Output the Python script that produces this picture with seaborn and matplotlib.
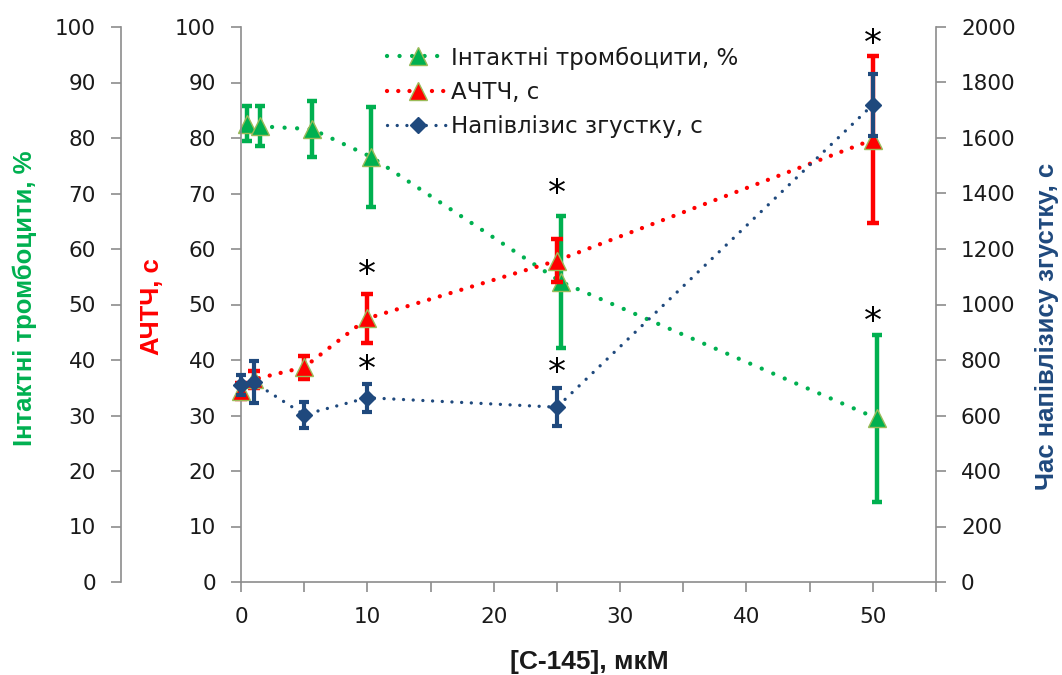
import matplotlib
matplotlib.use("Agg")
import matplotlib.pyplot as plt
import seaborn as sns
from matplotlib.ticker import MultipleLocator

# [C-145], uM
conc = [0, 1, 5, 10, 25, 50]
conc_platelets = [0.5, 1.5, 5.6, 10.3, 25.3, 50.3]

# Intact platelets, %
platelets = [82.6, 82.1, 81.6, 76.6, 54.1, 29.5]
platelets_sd = [3.2, 3.6, 5.1, 9.0, 11.9, 15.0]

# APTT, s
aptt = [34.4, 36.5, 38.7, 47.5, 57.9, 79.7]
aptt_sd = [1.5, 1.5, 2.1, 4.4, 3.9, 15.0]

# Clot half-lysis time, s
lysis = [710, 720, 603, 664, 630, 1720]
lysis_sd = [35, 75, 47, 51, 68, 111]

# significance marks (x, y on the percent / seconds scale)
star_x = [10, 10, 25, 25, 50, 50]
star_y = [55.4, 38.2, 70.0, 37.7, 97.0, 46.8]

x_ticks = [0, 10, 20, 30, 40, 50]
left_ticks = list(range(0, 101, 10))
right_ticks = list(range(0, 2001, 200))

GREEN = "#00B050"
RED = "#FF0000"
BLUE = "#1F497D"
OLIVE = "#9BBB59"
SPINE = "#8C8C8C"
TEXT = "#1A1A1A"

sns.set_theme(style="white")
plt.rcParams["font.family"] = ["DejaVu Sans"]

W, H = 1062, 675
fig = plt.figure(figsize=(W / 100, H / 100), dpi=100)
fig.patch.set_facecolor("white")

x0, x1, y0, y1 = 241, 936, 27, 582
axR = fig.add_axes([x0 / W, 1 - y1 / H, (x1 - x0) / W, (y1 - y0) / H])
axG = axR.twinx()
axB = axR.twinx()

axG.set_zorder(1)
axR.set_zorder(2)
axB.set_zorder(3)
for a in (axG, axR, axB):
    a.patch.set_visible(False)
    for s in a.spines.values():
        s.set_visible(False)
        s.set_color(SPINE)
        s.set_linewidth(1.2)
    a.grid(False)

axR.spines["left"].set_visible(True)
axR.spines["bottom"].set_visible(True)
axG.spines["left"].set_visible(True)
axG.spines["left"].set_position(("axes", -120 / (x1 - x0)))
axG.yaxis.set_ticks_position("left")
axB.spines["right"].set_visible(True)

dot = dict(dash_capstyle="round", solid_capstyle="round")


def series(ax, x, y, sd, color, marker, ms, mec, lw, gap, elw, cap):
    ax.errorbar(x, y, yerr=sd, fmt="none", ecolor=color, elinewidth=elw,
                capsize=cap, capthick=elw, clip_on=False, zorder=2)
    sns.lineplot(x=x, y=y, ax=ax, color=color, marker=marker, markersize=ms,
                 markeredgecolor=mec, markeredgewidth=1.0, linewidth=lw,
                 linestyle=(0, (0.01, gap)), clip_on=False, zorder=3,
                 sort=False, **dot)
    return ax.get_lines()[-1]


hG = series(axG, conc_platelets, platelets, platelets_sd, GREEN, "^", 13, OLIVE, 3.1, 2.9, 3.2, 3.8)
hR = series(axR, conc, aptt, aptt_sd, RED, "^", 13, OLIVE, 3.1, 2.6, 3.2, 4.2)
hB = series(axB, conc, lysis, lysis_sd, BLUE, "D", 8.5, BLUE, 2.4, 2.9, 3.0, 3.6)

for a in (axG, axR):
    a.set_ylim(0, 100)
    a.set_yticks(left_ticks)
axB.set_ylim(0, 2000)
axB.set_yticks(right_ticks)
axR.set_xlim(0, 55)
axR.set_xticks(x_ticks)
axR.xaxis.set_minor_locator(MultipleLocator(5))

for a in (axG, axR, axB):
    a.tick_params(axis="y", which="both", direction="out", length=7, width=1.2,
                  color=SPINE, labelsize=15.5, labelcolor=TEXT, pad=11)
    a.set_xlabel("")
    a.set_ylabel("")
axR.tick_params(axis="x", which="both", direction="out", length=7, width=1.2,
                color=SPINE, labelsize=15.5, labelcolor=TEXT, pad=11, bottom=True)
axG.tick_params(axis="x", which="both", bottom=False, labelbottom=False)
axB.tick_params(axis="x", which="both", bottom=False, labelbottom=False)

for sx, sy in zip(star_x, star_y):
    axR.text(sx, sy, "*", ha="center", va="center", fontsize=26, color="black",
             zorder=5)

lab = dict(fontfamily="Liberation Sans", fontweight="bold", rotation=90,
           ha="center", va="center")
fig.text(25 / W, 1 - 298 / H, "Інтактні тромбоцити, %", color=GREEN, fontsize=18.5, **lab)
fig.text(152 / W, 1 - 307 / H, "АЧТЧ, с", color=RED, fontsize=18.5, **lab)
fig.text(1047 / W, 1 - 326 / H, "Час напівлізису згустку, с", color=BLUE, fontsize=18.5, **lab)
fig.text(589 / W, 1 - 662 / H, "[С-145], мкМ", color=TEXT, fontsize=19,
         fontfamily="Liberation Sans", fontweight="bold", ha="center", va="center")

leg = axB.legend([hG, hR, hB],
                 ["Інтактні тромбоцити, %", "АЧТЧ, с", "Напівлізис згустку, с"],
                 loc="upper left", bbox_to_anchor=(0.19, 0.99), frameon=False,
                 fontsize=16.5, handlelength=2.7, handletextpad=0.1,
                 labelspacing=0.5, borderaxespad=0.2, numpoints=1)
for t in leg.get_texts():
    t.set_color(TEXT)

fig.savefig("out.png", dpi=100, facecolor="white")
